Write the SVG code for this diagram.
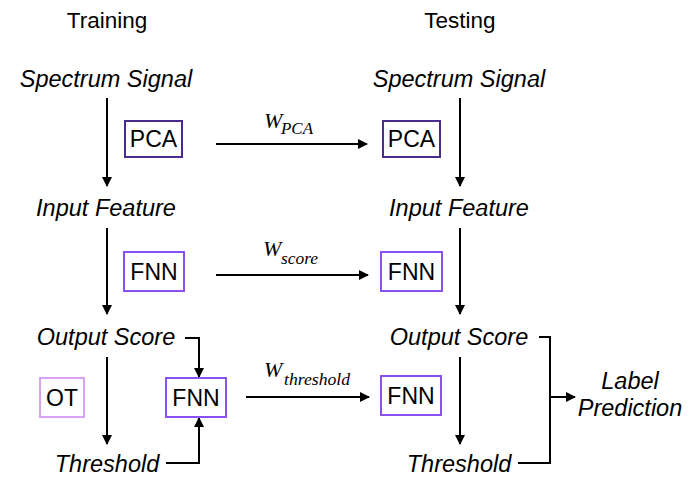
<svg xmlns="http://www.w3.org/2000/svg" width="696" height="501" viewBox="0 0 696 501">
<defs>
<marker id="ah" markerWidth="10" markerHeight="10" refX="9" refY="5" orient="auto" markerUnits="userSpaceOnUse">
<path d="M0,0 L10,5 L0,10 Z" fill="#000"/>
</marker>
<style>
.t{font-family:"Liberation Sans",Arial,sans-serif;font-size:22.5px;fill:#000}
.b{font-family:"Liberation Sans",Arial,sans-serif;font-size:23px;fill:#000}
.i{font-family:"Liberation Sans",Arial,sans-serif;font-size:23.5px;font-style:italic;fill:#000}
.w{font-family:"Liberation Serif","Times New Roman",serif;font-style:italic;fill:#000;font-size:22px}
.s{font-size:16px}
.c{stroke:#000;stroke-width:2;fill:none}
.box{fill:#fff;stroke-width:2}
.pca{stroke:#4B2C8E}
.fnn{stroke:#8B50F0}
.ot{stroke:#D7A2F6}
</style>
</defs>
<rect width="696" height="501" fill="#fff"/>

<g id="connectors">
<line class="c" x1="107" y1="98" x2="107" y2="186" marker-end="url(#ah)"/>
<line class="c" x1="107" y1="228" x2="107" y2="314" marker-end="url(#ah)"/>
<line class="c" x1="107" y1="357" x2="107" y2="444" marker-end="url(#ah)"/>
<line class="c" x1="460" y1="98" x2="460" y2="186" marker-end="url(#ah)"/>
<line class="c" x1="460" y1="228" x2="460" y2="314" marker-end="url(#ah)"/>
<line class="c" x1="460" y1="357" x2="460" y2="444" marker-end="url(#ah)"/>
<line class="c" x1="216" y1="144" x2="367" y2="144" marker-end="url(#ah)"/>
<line class="c" x1="216" y1="275" x2="368" y2="275" marker-end="url(#ah)"/>
<line class="c" x1="246" y1="397" x2="369" y2="397" marker-end="url(#ah)"/>
<polyline class="c" points="185,338 199,338 199,377" marker-end="url(#ah)"/>
<polyline class="c" points="166,463 199,463 199,418" marker-end="url(#ah)"/>
<polyline class="c" points="539,337 550,337 550,463 518,463"/>
<line class="c" x1="550" y1="397" x2="575" y2="397" marker-end="url(#ah)"/>
<text class="w" x="264" y="128">W</text>
<text class="w s" x="281" y="134" textLength="32" lengthAdjust="spacingAndGlyphs">PCA</text>
<text class="w" x="263" y="256">W</text>
<text class="w s" x="281" y="264" textLength="37" lengthAdjust="spacingAndGlyphs">score</text>
<text class="w" x="264" y="377">W</text>
<text class="w s" x="284" y="385" textLength="66" lengthAdjust="spacingAndGlyphs">threshold</text>
</g>

<g id="titles">
<text class="t" x="107" y="28" text-anchor="middle">Training</text>
<text class="t" x="460" y="28" text-anchor="middle">Testing</text>
</g>

<g id="train-spectrum"><text class="i" x="106" y="87" text-anchor="middle">Spectrum Signal</text></g>
<g id="train-input"><text class="i" x="106" y="216" text-anchor="middle">Input Feature</text></g>
<g id="train-output"><text class="i" x="106" y="345" text-anchor="middle">Output Score</text></g>
<g id="train-threshold"><text class="i" x="107" y="472" text-anchor="middle">Threshold</text></g>

<g id="test-spectrum"><text class="i" x="459" y="87" text-anchor="middle">Spectrum Signal</text></g>
<g id="test-input"><text class="i" x="459" y="216" text-anchor="middle">Input Feature</text></g>
<g id="test-output"><text class="i" x="459" y="345" text-anchor="middle">Output Score</text></g>
<g id="test-threshold"><text class="i" x="459" y="472" text-anchor="middle">Threshold</text></g>

<g id="label-prediction">
<text class="i" x="630" y="389" text-anchor="middle">Label</text>
<text class="i" x="630" y="416" text-anchor="middle">Prediction</text>
</g>

<g id="train-pca">
<rect class="box pca" x="125" y="121" width="57" height="36"/>
<text class="b" x="153.5" y="147" text-anchor="middle">PCA</text>
</g>
<g id="test-pca">
<rect class="box pca" x="383" y="121" width="57" height="36"/>
<text class="b" x="411.5" y="147" text-anchor="middle">PCA</text>
</g>
<g id="train-fnn1">
<rect class="box fnn" x="124" y="252" width="60" height="39"/>
<text class="b" x="154" y="280" text-anchor="middle">FNN</text>
</g>
<g id="test-fnn1">
<rect class="box fnn" x="381" y="252" width="61" height="39"/>
<text class="b" x="411.5" y="280" text-anchor="middle">FNN</text>
</g>
<g id="train-ot">
<rect class="box ot" x="40" y="378" width="44" height="39"/>
<text class="b" x="62" y="406" text-anchor="middle">OT</text>
</g>
<g id="train-fnn2">
<rect class="box fnn" x="166" y="378" width="60" height="39"/>
<text class="b" x="196" y="406" text-anchor="middle">FNN</text>
</g>
<g id="test-fnn2">
<rect class="box fnn" x="381" y="376" width="60" height="39"/>
<text class="b" x="411" y="404" text-anchor="middle">FNN</text>
</g>
</svg>
